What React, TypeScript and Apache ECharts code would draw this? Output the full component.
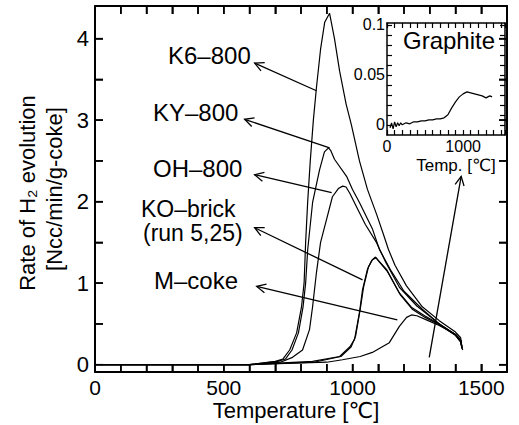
import React, { useEffect, useRef } from 'react';
import * as echarts from 'echarts';

const FONT = '"Liberation Sans", Arial, Helvetica, "DejaVu Sans", sans-serif';

// Tick labels and tick positions
const xTickLabels = [0, 500, 1000, 1500];
const xTickValues = [100, 200, 300, 400, 500, 600, 700, 800, 900, 1000, 1100, 1200, 1300, 1400, 1500];
const yTickLabels = [0, 1, 2, 3, 4];
const yTickValues = [0, 0.5, 1, 1.5, 2, 2.5, 3, 3.5, 4];
const insetXTickLabels = [0, 1000];
const insetYTickLabels = [0, 0.05, 0.1];
const insetYTickValues = [0, 0.01, 0.02, 0.03, 0.04, 0.05, 0.06, 0.07, 0.08, 0.09, 0.1];

// Series data [temperature (°C), rate]
const k6_800 = [
  [30, 0], [600, 0], [700, 0.04], [730, 0.07], [756, 0.18], [783, 0.39], [802, 0.71], [812, 1.0],
  [818, 1.5], [826, 2.0], [836, 2.5], [848, 3.0], [860, 3.4], [876, 3.87], [892, 4.2], [911, 4.31],
  [930, 4.0], [950, 3.6], [975, 3.2], [995, 2.95], [1027, 2.5], [1058, 2.15], [1093, 1.85],
  [1120, 1.6], [1140, 1.41], [1165, 1.22], [1209, 0.97], [1271, 0.71], [1337, 0.54], [1400, 0.4],
  [1420, 0.33], [1425, 0.22],
];
const ky_800 = [
  [30, 0], [600, 0], [710, 0.04], [740, 0.07], [765, 0.18], [790, 0.39], [808, 0.71], [818, 1.0],
  [826, 1.41], [845, 1.99], [872, 2.39], [891, 2.61], [907, 2.66], [915, 2.63], [930, 2.52],
  [977, 2.31], [1000, 2.15], [1027, 1.99], [1078, 1.66], [1105, 1.41], [1150, 1.15], [1200, 0.9],
  [1271, 0.68], [1337, 0.5], [1400, 0.37], [1420, 0.3], [1425, 0.2],
];
const oh_800 = [
  [30, 0], [600, 0], [720, 0.03], [767, 0.09], [806, 0.18], [833, 0.43], [845, 0.71], [860, 1.13],
  [876, 1.5], [899, 1.78], [922, 2.06], [945, 2.16], [962, 2.19], [975, 2.18], [990, 2.1],
  [1015, 1.94], [1050, 1.72], [1093, 1.5], [1130, 1.25], [1182, 0.95], [1250, 0.72], [1337, 0.5],
  [1400, 0.36], [1420, 0.28], [1425, 0.2],
];
const ko_brick_run5 = [
  [30, 0], [600, 0], [845, 0.04], [950, 0.1], [990, 0.22], [1008, 0.31], [1027, 0.64], [1039, 0.92],
  [1058, 1.17], [1075, 1.28], [1089, 1.32], [1100, 1.28], [1132, 1.17], [1182, 0.88], [1230, 0.7],
  [1280, 0.6], [1337, 0.5], [1400, 0.37], [1420, 0.3], [1425, 0.2],
];
const ko_brick_run25 = [
  [30, 0], [600, 0], [850, 0.03], [955, 0.1], [995, 0.22], [1012, 0.35], [1030, 0.68], [1043, 0.95],
  [1062, 1.2], [1078, 1.29], [1092, 1.31], [1104, 1.26], [1136, 1.14], [1185, 0.86], [1232, 0.68],
  [1282, 0.58], [1337, 0.49], [1400, 0.36], [1420, 0.28], [1428, 0.18],
];
const m_coke = [
  [30, 0], [600, 0], [900, 0.03], [961, 0.06], [1030, 0.1], [1077, 0.15], [1143, 0.27], [1182, 0.47],
  [1210, 0.58], [1229, 0.61], [1250, 0.6], [1287, 0.55], [1337, 0.48], [1400, 0.37], [1420, 0.3],
  [1425, 0.22],
];
// Inset: graphite
const graphite = [
  [40, -0.003], [60, 0.002], [80, -0.004], [100, 0.003], [120, -0.002], [140, 0.002], [160, -0.001],
  [180, 0.002], [200, 0.0], [250, 0.002], [300, 0.001], [350, 0.003], [400, 0.003], [450, 0.004],
  [500, 0.004], [550, 0.005], [600, 0.005], [650, 0.006], [700, 0.006], [750, 0.007], [800, 0.01],
  [850, 0.017], [900, 0.023], [950, 0.028], [1000, 0.031], [1050, 0.033], [1100, 0.032],
  [1150, 0.031], [1200, 0.03], [1250, 0.029], [1300, 0.027], [1350, 0.029], [1380, 0.028],
];

// Annotation arrows: [tailX, tailY, headX, headY] in data coords
const arrows = [
  [860, 3.36, 620, 3.7],
  [911, 2.66, 581, 3.01],
  [919, 2.11, 620, 2.33],
  [1039, 1.04, 620, 1.68],
  [1174, 0.55, 628, 0.96],
  [1298, 0.09, 1422, 2.31],
];

export default function App() {
  const ref = useRef<HTMLDivElement>(null);
  useEffect(() => {
    if (!ref.current) return;
    const chart = echarts.init(ref.current, undefined, { renderer: 'svg' });
    const black = '#000';
    const lineSeries = (data: number[][]) => ({
      type: 'line',
      xAxisIndex: 0,
      yAxisIndex: 0,
      data,
      showSymbol: false,
      symbol: 'none',
      smooth: false,
      lineStyle: { color: black, width: 1.2 },
      z: 3,
    });
    const txt = (text: string, x: number, y: number, size: number, align = 'left', rotation = 0) => ({
      type: 'text',
      x,
      y,
      rotation,
      style: {
        text,
        fontSize: size,
        fontFamily: FONT,
        fill: black,
        textAlign: align,
        textVerticalAlign: 'middle',
      },
      z: 10,
    });
    const TICK = 8;
    const mainTick = (extra: any = {}) => ({ show: true, inside: true, length: TICK, lineStyle: { color: black, width: 1.5 }, ...extra });
    const insetTick = (extra: any = {}) => ({ show: true, inside: true, length: 5, lineStyle: { color: black, width: 1.2 }, ...extra });
    const mainLine = () => ({ show: true, onZero: false, lineStyle: { color: black, width: 2 } });
    const insetLine = () => ({ show: true, onZero: false, lineStyle: { color: black, width: 1.5 } });
    chart.setOption({
      animation: false,
      backgroundColor: '#fff',
      grid: [
        { left: 95, right: 12, top: 6, bottom: 53 },
        { left: 387, right: 14, top: 23, bottom: 290, show: true, backgroundColor: '#fff', borderWidth: 0 },
      ],
      xAxis: [
        {
          type: 'value', gridIndex: 0, min: 0, max: 1600, interval: 100, position: 'bottom',
          splitLine: { show: false }, axisLine: mainLine(), axisTick: mainTick(),
          axisLabel: {
            formatter: (v: number) => (xTickLabels.includes(v) ? String(v) : ''),
            fontSize: 21, color: black, fontFamily: FONT, margin: 5,
          },
        },
        {
          type: 'value', gridIndex: 0, min: 0, max: 1600, interval: 100, position: 'top',
          splitLine: { show: false }, axisLine: mainLine(), axisTick: mainTick(),
          axisLabel: { show: false },
        },
        {
          type: 'value', gridIndex: 1, min: 0, max: 1550, interval: 100, position: 'bottom',
          splitLine: { show: false }, axisLine: insetLine(), axisTick: insetTick(),
          axisLabel: {
            formatter: (v: number) => (insetXTickLabels.includes(v) ? String(v) : ''),
            fontSize: 16, color: black, fontFamily: FONT, margin: 3,
          },
        },
        {
          type: 'value', gridIndex: 1, min: 0, max: 1550, interval: 100, position: 'top',
          splitLine: { show: false }, axisLine: insetLine(), axisTick: insetTick(),
          axisLabel: { show: false },
        },
      ],
      yAxis: [
        {
          type: 'value', gridIndex: 0, min: -0.09, max: 4.4, position: 'left',
          splitLine: { show: false }, axisLine: mainLine(), axisTick: mainTick({ customValues: yTickValues }),
          axisLabel: { customValues: yTickLabels, fontSize: 22, color: black, fontFamily: FONT, margin: 6 },
        },
        {
          type: 'value', gridIndex: 0, min: -0.09, max: 4.4, position: 'right',
          splitLine: { show: false }, axisLine: mainLine(), axisTick: mainTick({ customValues: yTickValues }),
          axisLabel: { show: false },
        },
        {
          type: 'value', gridIndex: 1, min: -0.0102, max: 0.102, position: 'left',
          splitLine: { show: false }, axisLine: insetLine(),
          axisTick: insetTick({ customValues: insetYTickValues }),
          axisLabel: {
            customValues: insetYTickLabels,
            formatter: (v: number) => String(Math.round(v * 100) / 100),
            fontSize: 16, color: black, fontFamily: FONT, margin: 2,
          },
        },
        {
          type: 'value', gridIndex: 1, min: -0.0102, max: 0.102, position: 'right',
          splitLine: { show: false }, axisLine: insetLine(),
          axisTick: insetTick({ customValues: insetYTickValues }),
          axisLabel: { show: false },
        },
      ],
      series: [
        lineSeries(k6_800),
        lineSeries(ky_800),
        lineSeries(oh_800),
        lineSeries(ko_brick_run5),
        lineSeries(ko_brick_run25),
        lineSeries(m_coke),
        {
          type: 'line',
          xAxisIndex: 2,
          yAxisIndex: 2,
          data: graphite,
          showSymbol: false,
          symbol: 'none',
          lineStyle: { color: black, width: 1.2 },
          z: 5,
        },
        // main x ticks (bottom and top, pointing inward)
        {
          type: 'custom',
          xAxisIndex: 0,
          yAxisIndex: 0,
          clip: false,
          silent: true,
          data: xTickValues.map((v) => [v, 2]),
          z: 100,
          renderItem: (params: any, api: any) => {
            const cs = params.coordSys;
            const px = api.coord([api.value(0), 2])[0];
            const yb = cs.y + cs.height;
            const yt = cs.y;
            return {
              type: 'group',
              children: [
                { type: 'line', shape: { x1: px, y1: yb, x2: px, y2: yb - TICK }, style: { stroke: black, lineWidth: 1.5 } },
                { type: 'line', shape: { x1: px, y1: yt, x2: px, y2: yt + TICK }, style: { stroke: black, lineWidth: 1.5 } },
              ],
            };
          },
        },
        // main y ticks (left and right, pointing inward)
        {
          type: 'custom',
          xAxisIndex: 0,
          yAxisIndex: 0,
          clip: false,
          silent: true,
          data: yTickValues.map((v) => [800, v]),
          z: 100,
          renderItem: (params: any, api: any) => {
            const cs = params.coordSys;
            const py = api.coord([800, api.value(1)])[1];
            const xl = cs.x;
            const xr = cs.x + cs.width;
            return {
              type: 'group',
              children: [
                { type: 'line', shape: { x1: xl, y1: py, x2: xl + TICK, y2: py }, style: { stroke: black, lineWidth: 1.5 } },
                { type: 'line', shape: { x1: xr, y1: py, x2: xr - TICK, y2: py }, style: { stroke: black, lineWidth: 1.5 } },
              ],
            };
          },
        },
        {
          type: 'custom',
          xAxisIndex: 0,
          yAxisIndex: 0,
          clip: false,
          data: arrows,
          encode: { x: [0, 2], y: [1, 3] },
          z: 6,
          renderItem: (_params: any, api: any) => {
            const p1 = api.coord([api.value(0), api.value(1)]);
            const p2 = api.coord([api.value(2), api.value(3)]);
            const dx = p1[0] - p2[0];
            const dy = p1[1] - p2[1];
            const len = Math.hypot(dx, dy) || 1;
            const ux = dx / len;
            const uy = dy / len;
            const L = 9;
            const W = 4.5;
            const a = [p2[0] + ux * L - uy * W, p2[1] + uy * L + ux * W];
            const b = [p2[0] + ux * L + uy * W, p2[1] + uy * L - ux * W];
            return {
              type: 'group',
              children: [
                { type: 'line', shape: { x1: p1[0], y1: p1[1], x2: p2[0], y2: p2[1] }, style: { stroke: black, lineWidth: 1.3 } },
                { type: 'polyline', shape: { points: [a, p2, b] }, style: { stroke: black, fill: 'none', lineWidth: 1.3 } },
              ],
            };
          },
        },
      ],
      graphic: [
        txt('K6–800', 168, 55, 24),
        txt('KY–800', 153, 112, 24),
        txt('OH–800', 153, 168, 24),
        txt('KO–brick', 141, 209, 23),
        txt('(run 5,25)', 143, 233, 23),
        txt('M–coke', 154, 280, 24),
        txt('Graphite', 403, 40, 24),
        txt('Temp. [℃]', 456, 165, 17, 'center'),
        txt('Temperature [℃]', 296, 410, 22, 'center'),
        txt('Rate of H₂ evolution', 27, 193, 22, 'center', Math.PI / 2),
        txt('[Ncc/min/g-coke]', 54, 189, 22, 'center', Math.PI / 2),
      ],
    });
    return () => chart.dispose();
  }, []);
  return <div ref={ref} style={{ position: 'fixed', left: 0, top: 0, width: 519, height: 425 }} />;
}
